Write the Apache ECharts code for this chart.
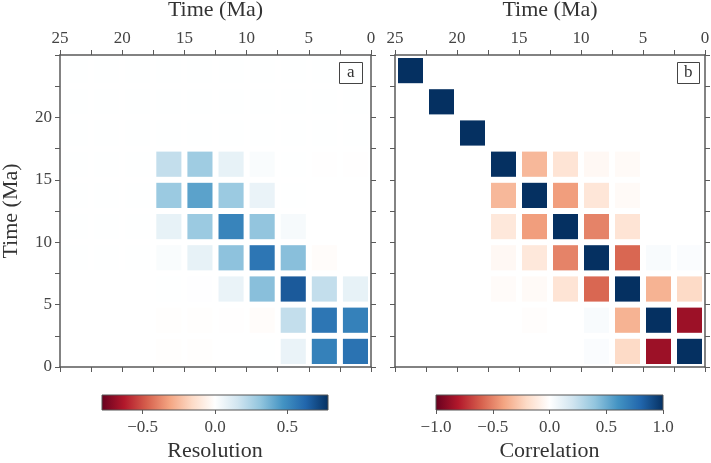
<!DOCTYPE html>
<html>
<head>
<meta charset="utf-8">
<script src="https://cdn.jsdelivr.net/npm/echarts@6/dist/echarts.min.js"></script>
<style>
  html, body { margin: 0; padding: 0; background: #fff; }
  #main { width: 711px; height: 463px; }
</style>
</head>
<body>
<div id="main"></div>
<script>
// time bins (Ma), left->right and top->bottom: 25-22.5 ... 2.5-0
var binCenters = [23.75, 21.25, 18.75, 16.25, 13.75, 11.25, 8.75, 6.25, 3.75, 1.25];

// resolution matrix, rows top->bottom, columns left->right
var resolution = [
    [0.003, 0.003, 0.003, 0.003, 0.003, 0.003, 0.003, 0.003, 0.002, 0.002],
    [0.003, 0.003, 0.003, 0.003, 0.003, 0.003, 0.003, 0.003, 0.002, 0.002],
    [0.003, 0.003, 0.003, 0.003, 0.003, 0.003, 0.003, 0.002, 0.002, 0.002],
    [0.003, 0.003, 0.003, 0.19, 0.28, 0.08, 0.02, 0.002, -0.003, -0.003],
    [0.003, 0.003, 0.003, 0.29, 0.42, 0.29, 0.07, 0.002, 0, 0],
    [0.002, 0.002, 0.003, 0.08, 0.29, 0.52, 0.31, 0.03, 0, 0],
    [0.002, 0.002, 0.002, 0.02, 0.08, 0.32, 0.57, 0.33, -0.015, 0],
    [0, 0, 0, 0.002, 0.005, 0.07, 0.33, 0.66, 0.19, 0.08],
    [0, 0, 0, -0.005, -0.005, -0.003, -0.015, 0.19, 0.57, 0.53],
    [0, 0, 0, -0.005, -0.005, 0, 0.003, 0.07, 0.53, 0.58]
];

// correlation matrix
var correlation = [
    [1, 0, 0, 0, 0, 0, 0, 0, 0, 0],
    [0, 1, 0, 0, 0, 0, 0, 0, 0, 0],
    [0, 0, 1, 0, 0, 0, 0, 0, 0, 0],
    [0, 0, 0, 1, -0.33, -0.15, -0.04, -0.03, 0, 0],
    [0, 0, 0, -0.33, 1, -0.42, -0.14, -0.03, 0, 0],
    [0, 0, 0, -0.13, -0.42, 1, -0.5, -0.15, 0, 0],
    [0, 0, 0, -0.04, -0.13, -0.5, 1, -0.58, 0.03, 0.02],
    [0, 0, 0, -0.02, -0.03, -0.15, -0.58, 1, -0.35, -0.2],
    [0, 0, 0, 0, -0.01, 0, 0.03, -0.35, 1, -0.86],
    [0, 0, 0, 0, 0, 0, 0.02, -0.2, -0.86, 1]
];

var resRange = [-0.78, 0.78];
var corRange = [-1, 1];
var resTicks = [-0.5, 0, 0.5];

var rdbu = ['#67001f', '#b2182b', '#d6604d', '#f4a582', '#fddbc7', '#ffffff',
            '#d1e5f0', '#92c5de', '#4393c3', '#2166ac', '#053061'];

function toCells(m) {
    var out = [];
    for (var r = 0; r < m.length; r++) {
        for (var c = 0; c < m[r].length; c++) {
            out.push([binCenters[c], binCenters[r], m[r][c]]);
        }
    }
    return out;
}

var chart = echarts.init(document.getElementById('main'));

var serif = 'Liberation Serif';
var frame = '#5a5a5a';
var txt = '#444';

function gradient() {
    var stops = rdbu.map(function (c, i) { return { offset: i / (rdbu.length - 1), color: c }; });
    return new echarts.graphic.LinearGradient(0, 0, 1, 0, stops);
}

function cell(params, api) {
    var x = api.value(0), y = api.value(1);
    var p1 = api.coord([x + 1.25, y + 1.25]);
    var p2 = api.coord([x - 1.25, y - 1.25]);
    var g = 3;
    var x0 = Math.min(p1[0], p2[0]), y0 = Math.min(p1[1], p2[1]);
    var w = Math.abs(p1[0] - p2[0]), h = Math.abs(p1[1] - p2[1]);
    return {
        type: 'rect',
        shape: { x: x0 + g, y: y0 + g, width: w - 2 * g, height: h - 2 * g },
        style: { fill: api.visual('color') }
    };
}

function timeAxis(grid, pos, labels, name) {
    return {
        type: 'value', gridIndex: grid, position: pos,
        inverse: pos === 'top' || pos === 'bottom',
        min: 0, max: 25, interval: 2.5,
        name: name || '', nameLocation: 'middle',
        nameGap: (pos === 'top') ? 34 : 38,
        nameTextStyle: { fontFamily: serif, fontSize: 22, color: '#333' },
        axisLine: { show: true, onZero: false, lineStyle: { color: frame, width: 1.5 } },
        axisTick: { show: true, inside: false, length: 5, lineStyle: { color: frame, width: 1 } },
        axisLabel: {
            show: !!labels, margin: 8,
            fontFamily: serif, fontSize: 17, color: txt,
            formatter: function (v) {
                if (v % 5 !== 0) return '';
                if (labels === 'y' && v === 25) return '';
                return String(v);
            }
        },
        splitLine: { show: false }
    };
}

function barAxis(grid, range, ticks, name) {
    var ax = {
        type: 'value', gridIndex: grid, position: 'bottom',
        min: range[0], max: range[1],
        name: name, nameLocation: 'middle', nameGap: 30,
        nameTextStyle: { fontFamily: serif, fontSize: 22, color: '#333' },
        axisLine: { show: false },
        axisTick: { show: true, inside: false, length: 4, lineStyle: { color: frame } },
        axisLabel: {
            margin: 9, fontFamily: serif, fontSize: 17, color: txt,
            formatter: function (v) { return v.toFixed(1).replace('-', '\u2212'); }
        },
        splitLine: { show: false }
    };
    if (ticks) {
        ax.axisTick.customValues = ticks;
        ax.axisLabel.customValues = ticks;
    } else {
        ax.interval = 0.5;
    }
    return ax;
}

var option = {
    backgroundColor: '#fff',
    animation: false,
    title: [
        { text: 'a', left: 339, top: 62, padding: [2, 8, 3, 8], borderColor: '#444', borderWidth: 1,
          textStyle: { fontFamily: serif, fontSize: 17, fontWeight: 'normal', color: '#333' } },
        { text: 'b', left: 677, top: 62, padding: [2, 7, 3, 7], borderColor: '#444', borderWidth: 1,
          textStyle: { fontFamily: serif, fontSize: 17, fontWeight: 'normal', color: '#333' } }
    ],
    grid: [
        { left: 60, top: 55, width: 311, height: 312, outerBoundsMode: 'none' },
        { left: 395, top: 55, width: 310, height: 312, outerBoundsMode: 'none' },
        { left: 102, top: 395, width: 226, height: 15, show: true, backgroundColor: gradient(),
          borderColor: '#555', borderWidth: 1, outerBoundsMode: 'none' },
        { left: 436, top: 395, width: 227, height: 15, show: true, backgroundColor: gradient(),
          borderColor: '#555', borderWidth: 1, outerBoundsMode: 'none' }
    ],
    xAxis: [
        timeAxis(0, 'top', 'x', 'Time (Ma)'),
        timeAxis(0, 'bottom', null),
        timeAxis(1, 'top', 'x', 'Time (Ma)'),
        timeAxis(1, 'bottom', null),
        barAxis(2, resRange, resTicks, 'Resolution'),
        barAxis(3, corRange, null, 'Correlation')
    ],
    yAxis: [
        timeAxis(0, 'left', 'y', 'Time (Ma)'),
        timeAxis(0, 'right', null),
        timeAxis(1, 'left', null),
        timeAxis(1, 'right', null),
        { type: 'value', gridIndex: 2, show: false, min: 0, max: 1 },
        { type: 'value', gridIndex: 3, show: false, min: 0, max: 1 }
    ],
    visualMap: [
        { type: 'continuous', show: false, seriesIndex: 0, dimension: 2,
          min: resRange[0], max: resRange[1], inRange: { color: rdbu } },
        { type: 'continuous', show: false, seriesIndex: 1, dimension: 2,
          min: corRange[0], max: corRange[1], inRange: { color: rdbu } }
    ],
    series: [
        { type: 'custom', name: 'Resolution', xAxisIndex: 0, yAxisIndex: 0,
          renderItem: cell, data: toCells(resolution), clip: true },
        { type: 'custom', name: 'Correlation', xAxisIndex: 2, yAxisIndex: 2,
          renderItem: cell, data: toCells(correlation), clip: true }
    ]
};

chart.setOption(option);
</script>
</body>
</html>
